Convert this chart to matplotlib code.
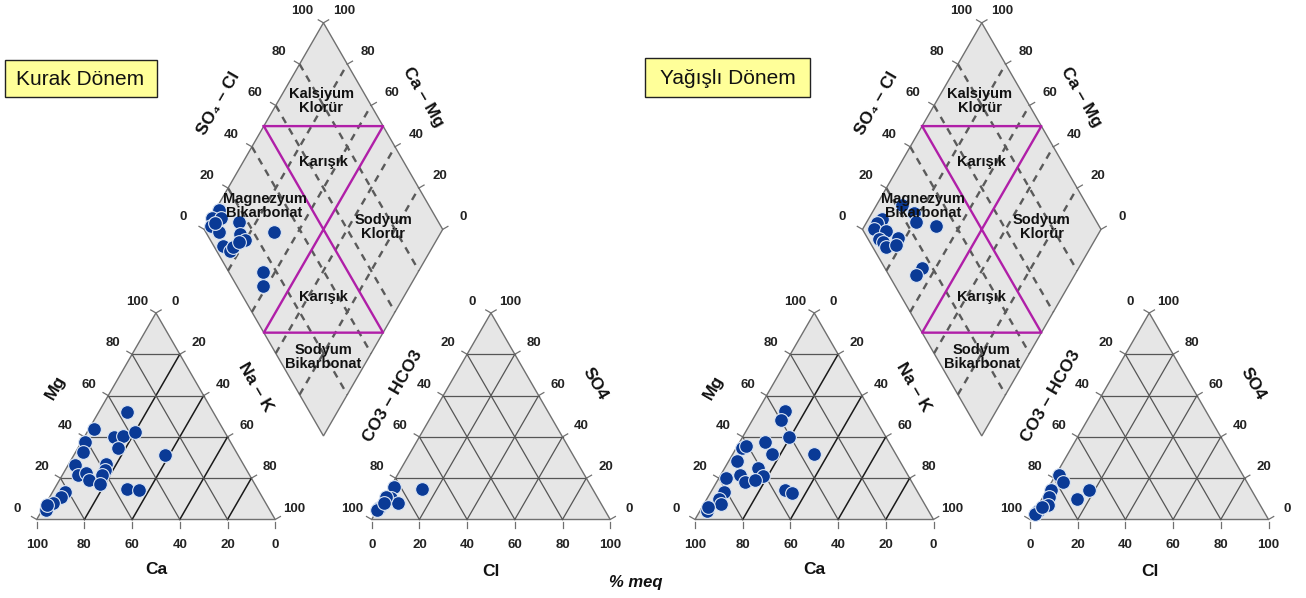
import numpy as np
import matplotlib
matplotlib.use("Agg")
import matplotlib.pyplot as plt
from matplotlib.patches import Polygon, Rectangle

plt.rcParams['font.family'] = ['Liberation Sans', 'DejaVu Sans']

# ---- data (percent meq) ----
# Kurak Dönem (dry season)
DRY_CA = [36, 54, 47.5, 43.5, 37.5, 61, 48.5, 64.5, 30.5, 70.5, 57.5, 59.5,
          72, 68, 68.5, 62, 65, 54.5, 50, 81.5, 84.5, 89, 94, 92]
DRY_MG = [52, 44, 40, 40.5, 42.5, 37.5, 34.5, 32.5, 31, 26.5, 27, 24,
          21.5, 22.5, 19, 21.5, 17, 15, 14.5, 13.5, 11, 8, 4.5, 7]
DRY_CL = [1.5, 13.5, 3, 7, 0.5, 0.5, 0, 1]
DRY_SO4 = [15.5, 15, 10.5, 8, 11, 5.5, 4.5, 8]
DRY_SO4CL = [11, 6, 10, 3.5, 5.5, 16.5, 14, 14.5, 4, 5.5, 8, 28.5, 14.5, 11, 6, 11.5]
DRY_CAMG = [98.5, 99.5, 95.5, 98, 93, 87, 84, 80.5, 88, 84, 83.5, 70, 65, 61.5, 97, 82.5]

# Yağışlı Dönem (wet season)
WET_CA = [36, 40, 40.5, 52, 63, 61, 52, 34.5, 68, 61, 70.5, 77,
          61, 70, 65.5, 55, 53, 81, 85, 85.5, 93, 91.5]
WET_MG = [52.5, 48, 40, 37.5, 34.5, 35.5, 31.5, 31.5, 28.5, 25, 21.5, 20,
          21, 18, 19, 14.5, 13, 13.5, 10, 7.5, 4, 6]
WET_CL = [1.5, 5, 17.5, 14.5, 1.5, 2.5, 4, 1.5, 1, 2]
WET_SO4 = [21.5, 18, 14.5, 10, 14.5, 11, 7, 4, 2.5, 6]
WET_SO4CL = [22.5, 25.5, 10.5, 7.5, 5, 9.5, 4.5, 5.5, 5.5, 13, 10.5, 24, 31.5, 15.5, 11.5]
WET_CAMG = [89.5, 82.5, 94.5, 95.5, 95, 89.5, 91, 88.5, 86, 83, 82, 79.5, 70, 66, 66.5]

TICKS = [0, 20, 40, 60, 80, 100]

# ---- layout (pixels) ----
S = 238.5            # side of each triangle / diamond
GAP = 96.5           # gap between the two triangles
H = np.sqrt(3) / 2
BASE_Y = 519.5
PANELS = [36.7, 695.0]

FILL = "#e6e6e6"
EDGE = "#707070"
DOT = "#0a3a96"
MAGENTA = "#b01fa8"


def cat_xy(ox, ca, mg):
    ca = np.asarray(ca, float) / 100
    mg = np.asarray(mg, float) / 100
    nak = 1 - ca - mg
    return ox + S * (nak + mg / 2), BASE_Y - S * H * mg


def an_xy(ox, cl, so4):
    cl = np.asarray(cl, float) / 100
    so4 = np.asarray(so4, float) / 100
    return ox + S + GAP + S * (cl + so4 / 2), BASE_Y - S * H * so4


def dia_xy(ox, so4cl, camg):
    a = np.asarray(so4cl, float) / 100
    n = 1 - np.asarray(camg, float) / 100
    g = GAP / S
    return ox + S * (n + 1 + g + a) / 2, BASE_Y - S * H * (1 + g + a - n)


def tick_label(ax, x, y, d, txt, dist=22):
    ax.plot([x, x + 6 * d[0]], [y, y + 6 * d[1]], color=EDGE, lw=0.9, zorder=2)
    ax.text(x + dist * d[0], y + dist * d[1], txt, ha="center", va="center",
            fontsize=9.5, fontweight="bold", color="#222222", zorder=6)


def draw_triangle(ax, x0, dark_up_right):
    top = (x0 + S / 2, BASE_Y - S * H)
    ax.add_patch(Polygon([(x0, BASE_Y), (x0 + S, BASE_Y), top], closed=True,
                         facecolor=FILL, edgecolor=EDGE, lw=1.0, zorder=1))
    for f in [0.2, 0.4, 0.6, 0.8]:
        # horizontal
        ax.plot([x0 + S * f / 2, x0 + S - S * f / 2], [BASE_Y - S * H * f] * 2,
                color="#555555", lw=0.9, zorder=2)
        # parallel to left edge (up-right)
        c = "#1a1a1a" if dark_up_right else "#555555"
        ax.plot([x0 + S * f, x0 + S * f + S * (1 - f) / 2],
                [BASE_Y, BASE_Y - S * H * (1 - f)], color=c,
                lw=1.1 if dark_up_right else 0.9, zorder=2)
        # parallel to right edge (up-left)
        ax.plot([x0 + S * f, x0 + S * f / 2], [BASE_Y, BASE_Y - S * H * f],
                color="#555555", lw=0.9, zorder=2)


def draw_panel(ax, ox, ca, mg, cl, so4, so4cl, camg, title, box):
    left_out = (-0.866, -0.5)
    right_out = (0.866, -0.5)

    # cation triangle
    draw_triangle(ax, ox, True)
    for t in TICKS:
        f = t / 100
        tick_label(ax, ox + S * f, BASE_Y + 2, (0, 1), str(100 - t), dist=24)
        tick_label(ax, *cat_xy(ox, 100 - t, t), left_out, str(t))
        tick_label(ax, *cat_xy(ox, 0, 100 - t), right_out, str(t))

    # anion triangle
    ax0 = ox + S + GAP
    draw_triangle(ax, ax0, False)
    for t in TICKS:
        f = t / 100
        tick_label(ax, ax0 + S * f, BASE_Y + 2, (0, 1), str(t), dist=24)
        tick_label(ax, *an_xy(ox, 0, t), left_out, str(100 - t))
        tick_label(ax, *an_xy(ox, 100 - t, t), right_out, str(t))

    # diamond
    corners = [dia_xy(ox, 0, 0), dia_xy(ox, 0, 100), dia_xy(ox, 100, 100), dia_xy(ox, 100, 0)]
    ax.add_patch(Polygon(corners, closed=True, facecolor=FILL, edgecolor=EDGE,
                         lw=1.0, zorder=1))
    for t in [20, 40, 60, 80]:
        xs, ys = dia_xy(ox, [t, t], [100, 0])
        ax.plot(xs, ys, color="#5a5a5a", lw=1.7, ls=(0, (3, 2.6)), zorder=2)
        xs, ys = dia_xy(ox, [0, 100], [t, t])
        ax.plot(xs, ys, color="#5a5a5a", lw=1.7, ls=(0, (3, 2.6)), zorder=2)
    for t in TICKS:
        tick_label(ax, *dia_xy(ox, t, 100), left_out, str(t), dist=24)
        tick_label(ax, *dia_xy(ox, 100, 100 - t), right_out, str(100 - t), dist=24)
    mx, my = dia_xy(ox, [50, 100, 0, 50, 50], [100, 50, 50, 0, 100])
    ax.plot(mx, my, color=MAGENTA, lw=1.7, zorder=3)

    # facies names
    cx = dia_xy(ox, 100, 100)[0]
    fkw = dict(ha="center", va="center", fontsize=10.5, fontweight="bold",
               color="#111111", linespacing=1.0, zorder=6)
    ax.text(cx - 2, 101, "Kalsiyum\nKlorür", **fkw)
    ax.text(cx, 162, "Karışık", **fkw)
    ax.text(cx - 59, 206, "Magnezyum\nBikarbonat", **fkw)
    ax.text(cx + 60, 227, "Sodyum\nKlorür", **fkw)
    ax.text(cx, 297, "Karışık", **fkw)
    ax.text(cx, 357, "Sodyum\nBikarbonat", **fkw)

    # samples
    skw = dict(s=98, c=DOT, edgecolors="#dce6f4", linewidths=0.8, zorder=5)
    ax.scatter(*cat_xy(ox, ca, mg), **skw)
    ax.scatter(*an_xy(ox, cl, so4), **skw)
    ax.scatter(*dia_xy(ox, so4cl, camg), **skw)

    # axis titles
    akw = dict(ha="center", va="center", fontsize=12.5, fontweight="bold", color="#111111")
    ax.text(ox + 18.5, 387, "Mg", rotation=60, **akw)
    ax.text(ox + 218.5, 387, "Na – K", rotation=-60, **akw)
    ax.text(ox + 119.5, 570, "Ca", **akw)
    ax.text(ox + 181.5, 103, "SO₄ – Cl", rotation=60, **akw)
    ax.text(ox + 386, 97, "Ca – Mg", rotation=-60, **akw)
    ax.text(ox + 356, 396, "CO3 – HCO3", rotation=60, **akw)
    ax.text(ox + 558.5, 384, "SO4", rotation=-60, **akw)
    ax.text(ox + 454.5, 572, "Cl", **akw)

    # season box
    bx, by, bw, bh = box
    ax.add_patch(Rectangle((bx, by), bw, bh, facecolor="#ffff99",
                           edgecolor="#222222", lw=1.0, zorder=4))
    ax.text(bx + bw / 2, by + bh / 2 + 1, title, ha="center", va="center",
            fontsize=15, color="#111111", zorder=6)


fig = plt.figure(figsize=(13.06, 5.98), dpi=100)
ax = fig.add_axes([0, 0, 1, 1])
ax.set_xlim(0, 1306)
ax.set_ylim(598, 0)
ax.axis("off")

draw_panel(ax, PANELS[0], DRY_CA, DRY_MG, DRY_CL, DRY_SO4, DRY_SO4CL, DRY_CAMG,
           "Kurak Dönem", (4.5, 60, 152, 37))
draw_panel(ax, PANELS[1], WET_CA, WET_MG, WET_CL, WET_SO4, WET_SO4CL, WET_CAMG,
           "Yağışlı Dönem", (645, 58, 165, 39))

ax.text(636, 583, "% meq", ha="center", va="center", fontsize=12,
        fontweight="bold", fontstyle="italic", color="#111111")

fig.savefig("out.png", dpi=100)
